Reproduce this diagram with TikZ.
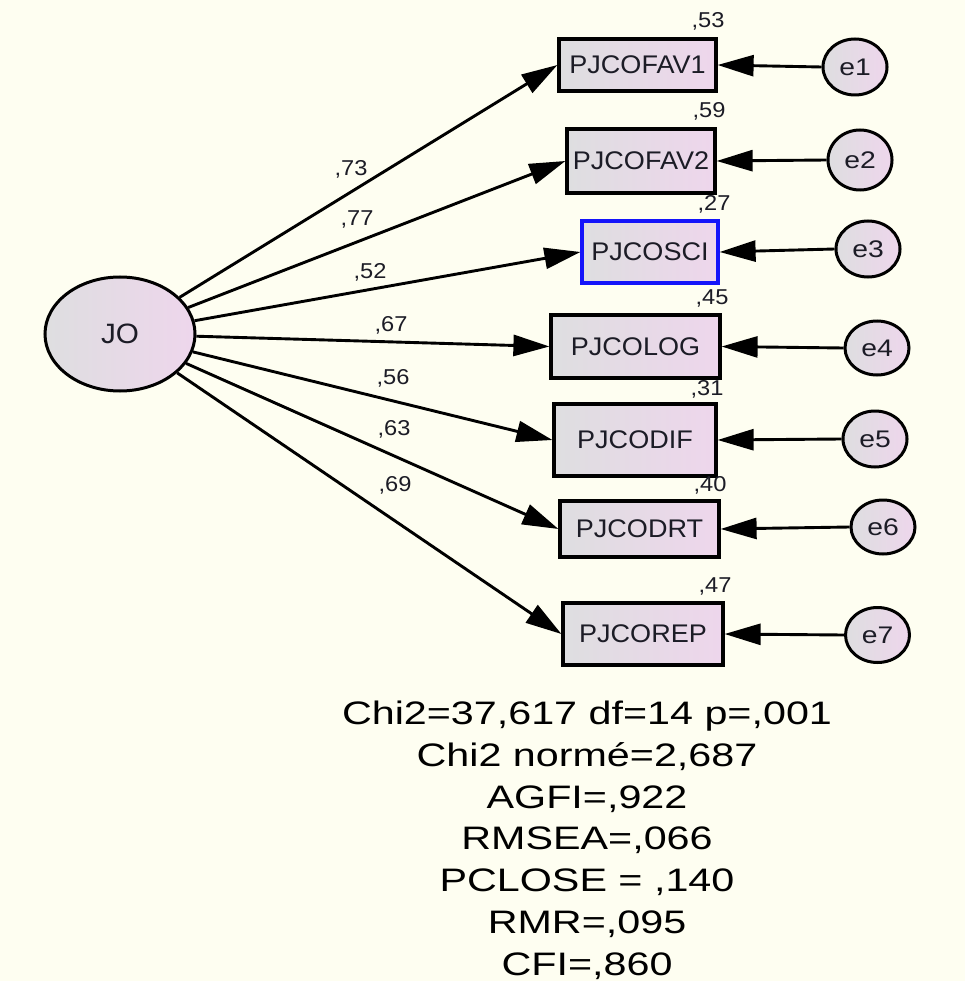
\documentclass[tikz,border=0pt]{standalone}
\usepackage{fontspec}
\setmainfont{Liberation Sans}
\newfontfamily\statf[FakeStretch=1.27]{Liberation Sans}
\newfontfamily\boxf[FakeStretch=1.06]{Liberation Sans}
\newfontfamily\errf[FakeStretch=1.18]{Liberation Sans}
\newfontfamily\numf[FakeStretch=1.1]{Liberation Sans}
\usetikzlibrary{shapes.geometric,arrows.meta}
\definecolor{bg}{RGB}{254,254,241}
\definecolor{fillL}{RGB}{222,222,224}
\definecolor{fillR}{RGB}{238,214,236}
\definecolor{txt}{RGB}{28,28,38}
\definecolor{boxblue}{RGB}{20,20,250}
\begin{document}
\begin{tikzpicture}[x=1pt,y=-1pt,
  obs/.style={draw=black, line width=3.2pt, left color=fillL, right color=fillR,
    inner sep=0pt, text=txt, font=\boxf\fontsize{25.5}{30}\selectfont},
  lat/.style={ellipse, draw=black, line width=3pt, left color=fillL, right color=fillR,
    inner sep=0pt, text=txt},
  conn/.style={line width=2.9pt, -{Triangle[length=36pt,width=21pt]}},
  num/.style={font=\numf\fontsize{21.5}{24}\selectfont, anchor=base, text=txt, inner sep=0pt},
  stat/.style={font=\statf\fontsize{32.5}{40}\selectfont, anchor=base, text=black, inner sep=0pt}
]
\useasboundingbox (0,0) rectangle (965,981);
\fill[bg] (0,0) rectangle (965,981);

% latent variable
\node[lat, minimum width=150pt, minimum height=114pt,
  font=\boxf\fontsize{28}{32}\selectfont] (JO) at (120,334) {JO};

% observed variables
\node[obs, minimum width=157pt, minimum height=52pt] (b1) at (637.5,65) {PJCOFAV1};
\node[obs, minimum width=148pt, minimum height=64pt] (b2) at (641,161) {PJCOFAV2};
\node[obs, draw=boxblue, minimum width=136pt, minimum height=62pt] (b3) at (650,252) {PJCOSCI};
\node[obs, minimum width=169pt, minimum height=63pt] (b4) at (635.5,346.5) {PJCOLOG};
\node[obs, minimum width=162pt, minimum height=72pt] (b5) at (635,440) {PJCODIF};
\node[obs, minimum width=159pt, minimum height=56pt] (b6) at (639.5,529) {PJCODRT};
\node[obs, minimum width=160pt, minimum height=62pt] (b7) at (643,634) {PJCOREP};

% error terms
\tikzset{err/.style={lat, minimum width=64pt, minimum height=56pt,
  font=\errf\fontsize{24}{28}\selectfont}}
\node[err] (e1) at (855,67) {e1};
\node[err, minimum height=60pt] (e2) at (860,160) {e2};
\node[err] (e3) at (868,249) {e3};
\node[err, minimum height=54pt] (e4) at (877,348) {e4};
\node[err] (e5) at (875,439) {e5};
\node[err, minimum height=54pt] (e6) at (883,527) {e6};
\node[err, minimum height=55pt] (e7) at (877.5,635) {e7};

% loadings
\foreach \b in {b1,b2,b3,b4,b5,b6,b7}
  \draw[conn] (JO) -- (\b.west);
% error paths
\foreach \i in {1,...,7}
  \draw[conn] (e\i.west) -- (b\i.east);

% standardized loadings
\node[num] (l1) at (351,176) {,73};
\node[num] (l2) at (357,226) {,77};
\node[num] (l3) at (370,278) {,52};
\node[num] (l4) at (391,331) {,67};
\node[num] (l5) at (393,384) {,56};
\node[num] (l6) at (394,435) {,63};
\node[num] (l7) at (395,491) {,69};

% squared multiple correlations
\node[num] (r1) at (708,28) {,53};
\node[num] (r2) at (709,118) {,59};
\node[num] (r3) at (714,211) {,27};
\node[num] (r4) at (712,304) {,45};
\node[num] (r5) at (707,395) {,31};
\node[num] (r6) at (710,491) {,40};
\node[num] (r7) at (715,592) {,47};

% fit statistics
\node[stat] (s1) at (587,724.5) {Chi2=37,617 df=14 p=,001};
\node[stat] (s2) at (587,766.3) {Chi2 normé=2,687};
\node[stat] (s3) at (587,808.1) {AGFI=,922};
\node[stat] (s4) at (587,849.9) {RMSEA=,066};
\node[stat] (s5) at (587,891.7) {PCLOSE = ,140};
\node[stat] (s6) at (587,933.5) {RMR=,095};
\node[stat] (s7) at (587,975.3) {CFI=,860};
\end{tikzpicture}
\end{document}
